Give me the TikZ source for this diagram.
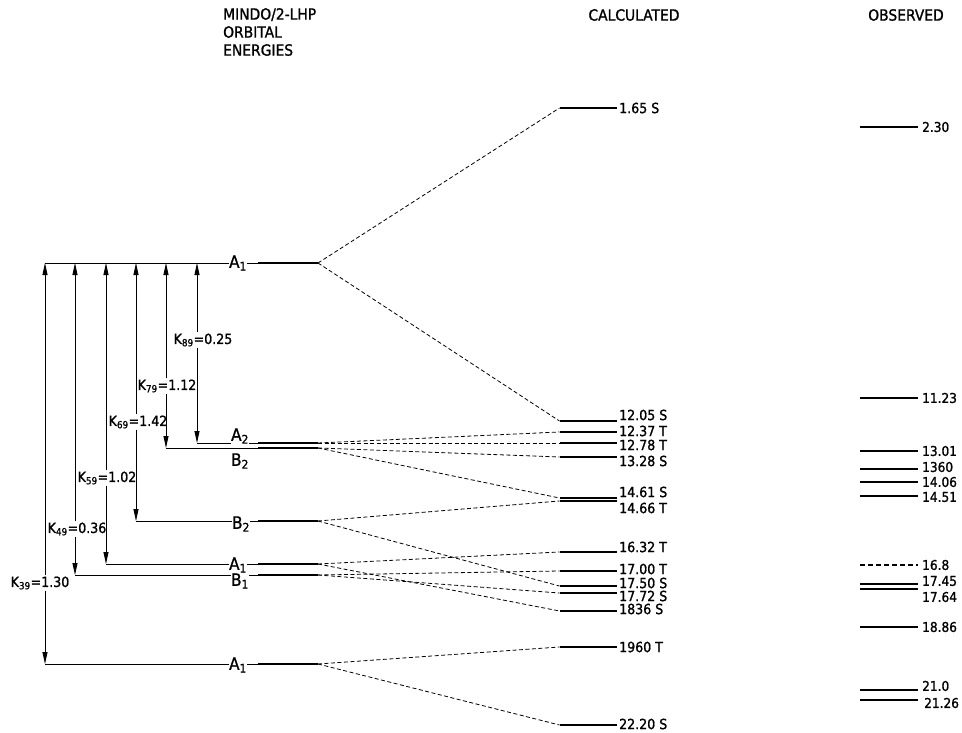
\documentclass[tikz,border=0pt]{standalone}
\usepackage{fontspec}
\setmainfont{DejaVu Sans}[FakeStretch=0.9, FakeBold=1.2]
\usetikzlibrary{arrows.meta}

\begin{document}
\begin{tikzpicture}[
    x=1pt, y=-1pt,
    bar/.style={fill=black, minimum height=2.6pt, inner sep=0pt, outer sep=0pt},
    orbbar/.style={bar, minimum width=60pt},
    calcbar/.style={bar, minimum width=57pt},
    obsbar/.style={bar, minimum width=58pt},
    sym/.style={fill=white, inner sep=0.5pt, font=\fontsize{17}{18}\selectfont},
    kval/.style={fill=white, inner sep=1pt, font=\fontsize{14}{15}\selectfont},
    val/.style={anchor=west, inner sep=0pt, font=\fontsize{14}{15}\selectfont},
    oval/.style={val, font=\fontsize{13.5}{14}\selectfont},
    headtext/.style={inner sep=0pt, align=left, font=\fontsize{15.4}{18}\selectfont},
    corr/.style={dash pattern=on 4pt off 2.5pt, line width=0.8pt},
    arrow/.style={-{Triangle[length=12pt, width=5pt]}, line width=0.8pt}
]
    \useasboundingbox (0,0) rectangle (962,733);

    % headings
    \node[headtext, anchor=north west] (h-mindo) at (223,8) {MINDO/2-LHP\\ORBITAL\\ENERGIES};
    \node[headtext] (h-calc) at (634,15) {CALCULATED};
    \node[headtext] (h-obs) at (906,15) {OBSERVED};

    % orbital levels
    \node[orbbar] (orb-a1t) at (288,263) {};
    \node[orbbar] (orb-a2) at (288,443) {};
    \node[orbbar] (orb-b2t) at (288,448) {};
    \node[orbbar] (orb-b2) at (288,521) {};
    \node[orbbar] (orb-a1m) at (288,564) {};
    \node[orbbar] (orb-b1) at (288,575) {};
    \node[orbbar] (orb-a1b) at (288,664) {};

    \coordinate (t39) at (45,263);  \coordinate (b39) at (45,664);
    \coordinate (t49) at (75,263);  \coordinate (b49) at (75,575);
    \coordinate (t59) at (106,263); \coordinate (b59) at (106,564);
    \coordinate (t69) at (136,263); \coordinate (b69) at (136,521);
    \coordinate (t79) at (166,263); \coordinate (b79) at (166,448);
    \coordinate (t89) at (197,263); \coordinate (b89) at (197,443);

    \draw[line width=0.8pt] (t39) -- (orb-a1t.west);
    \draw[line width=0.8pt] (b39) -- (orb-a1b.west);
    \draw[line width=0.8pt] (b49) -- (orb-b1.west);
    \draw[line width=0.8pt] (b59) -- (orb-a1m.west);
    \draw[line width=0.8pt] (b69) -- (orb-b2.west);
    \draw[line width=0.8pt] (b79) -- (orb-b2t.west);
    \draw[line width=0.8pt] (b89) -- (orb-a2.west);

    % exchange integrals
    \node[kval] (k39) at (40,583) {K\textsubscript{39}=1.30};
    \node[kval] (k49) at (77,529) {K\textsubscript{49}=0.36};
    \node[kval] (k59) at (107,478) {K\textsubscript{59}=1.02};
    \node[kval] (k69) at (138,422) {K\textsubscript{69}=1.42};
    \node[kval] (k79) at (167,386) {K\textsubscript{79}=1.12};
    \node[kval] (k89) at (203,340) {K\textsubscript{89}=0.25};
    \foreach \k in {39,49,59,69,79,89} {
        \draw[arrow] (k\k.north -| t\k) -- (t\k);
        \draw[arrow] (k\k.south -| b\k) -- (b\k);
    }

    \node[sym] (s-a1t) at (238,263) {A\textsubscript{1}};
    \node[sym] (s-a2) at (240,436) {A\textsubscript{2}};
    \node[sym] (s-b2t) at (240,461) {B\textsubscript{2}};
    \node[sym] (s-b2) at (241,524) {B\textsubscript{2}};
    \node[sym] (s-a1m) at (238,565) {A\textsubscript{1}};
    \node[sym] (s-b1) at (240,581) {B\textsubscript{1}};
    \node[sym] (s-a1b) at (238,665) {A\textsubscript{1}};

    % calculated states
    \node[calcbar] (calc-165) at (588,108) {};
    \node[calcbar] (calc-1205) at (588,421) {};
    \node[calcbar] (calc-1237) at (588,432) {};
    \node[calcbar] (calc-1278) at (588,443) {};
    \node[calcbar] (calc-1328) at (588,457) {};
    \node[calcbar] (calc-1461) at (588,498) {};
    \node[calcbar] (calc-1466) at (588,501) {};
    \node[calcbar] (calc-1632) at (588,552) {};
    \node[calcbar] (calc-1700) at (588,571) {};
    \node[calcbar] (calc-1750) at (588,586) {};
    \node[calcbar] (calc-1772) at (588,593) {};
    \node[calcbar] (calc-1836) at (588,611) {};
    \node[calcbar] (calc-1960) at (588,647) {};
    \node[calcbar] (calc-2220) at (588,725) {};

    \node[val] at (619,108) {1.65 S};
    \node[val] at (619,415) {12.05 S};
    \node[val] at (619,431) {12.37 T};
    \node[val] at (619,445) {12.78 T};
    \node[val] at (619,461) {13.28 S};
    \node[val] at (619,492) {14.61 S};
    \node[val] at (619,508) {14.66 T};
    \node[val] at (619,547) {16.32 T};
    \node[val] at (619,569) {17.00 T};
    \node[val] at (619,583) {17.50 S};
    \node[val] at (619,596) {17.72 S};
    \node[val] at (619,609) {1836 S};
    \node[val] at (619,647) {1960 T};
    \node[val] at (619,724) {22.20 S};

    \foreach \a/\b in {orb-a1t/calc-165, orb-a1t/calc-1205, orb-a2/calc-1237, orb-a2/calc-1278,
                       orb-b2t/calc-1328, orb-b2t/calc-1461, orb-b2/calc-1466, orb-b2/calc-1750,
                       orb-a1m/calc-1632, orb-a1m/calc-1836, orb-b1/calc-1700, orb-b1/calc-1772,
                       orb-a1b/calc-1960, orb-a1b/calc-2220}
        \draw[corr] (\a.east) -- (\b.west);

    % observed
    \node[obsbar] (obs-230) at (889,127) {};
    \node[obsbar] (obs-1123) at (889,398) {};
    \node[obsbar] (obs-1301) at (889,451) {};
    \node[obsbar] (obs-1360) at (889,469) {};
    \node[obsbar] (obs-1406) at (889,482) {};
    \node[obsbar] (obs-1451) at (889,496) {};
    \node[obsbar, fill=none] (obs-168) at (889,565) {};
    \draw[line width=2.6pt, dash pattern=on 5pt off 3pt] (obs-168.west) -- (obs-168.east);
    \node[obsbar] (obs-1745) at (889,584) {};
    \node[obsbar] (obs-1764) at (889,589) {};
    \node[obsbar] (obs-1886) at (889,627) {};
    \node[obsbar] (obs-2100) at (889,690) {};
    \node[obsbar] (obs-2126) at (889,700) {};

    \node[oval] at (922,127) {2.30};
    \node[oval] at (922,398) {11.23};
    \node[oval] at (922,451) {13.01};
    \node[oval] at (922,467) {1360};
    \node[oval] at (922,482) {14.06};
    \node[oval] at (922,497) {14.51};
    \node[oval] at (922,565) {16.8};
    \node[oval] at (922,581) {17.45};
    \node[oval] at (922,597) {17.64};
    \node[oval] at (922,627) {18.86};
    \node[oval] at (922,686) {21.0};
    \node[oval] at (924,703) {21.26};
\end{tikzpicture}
\end{document}
